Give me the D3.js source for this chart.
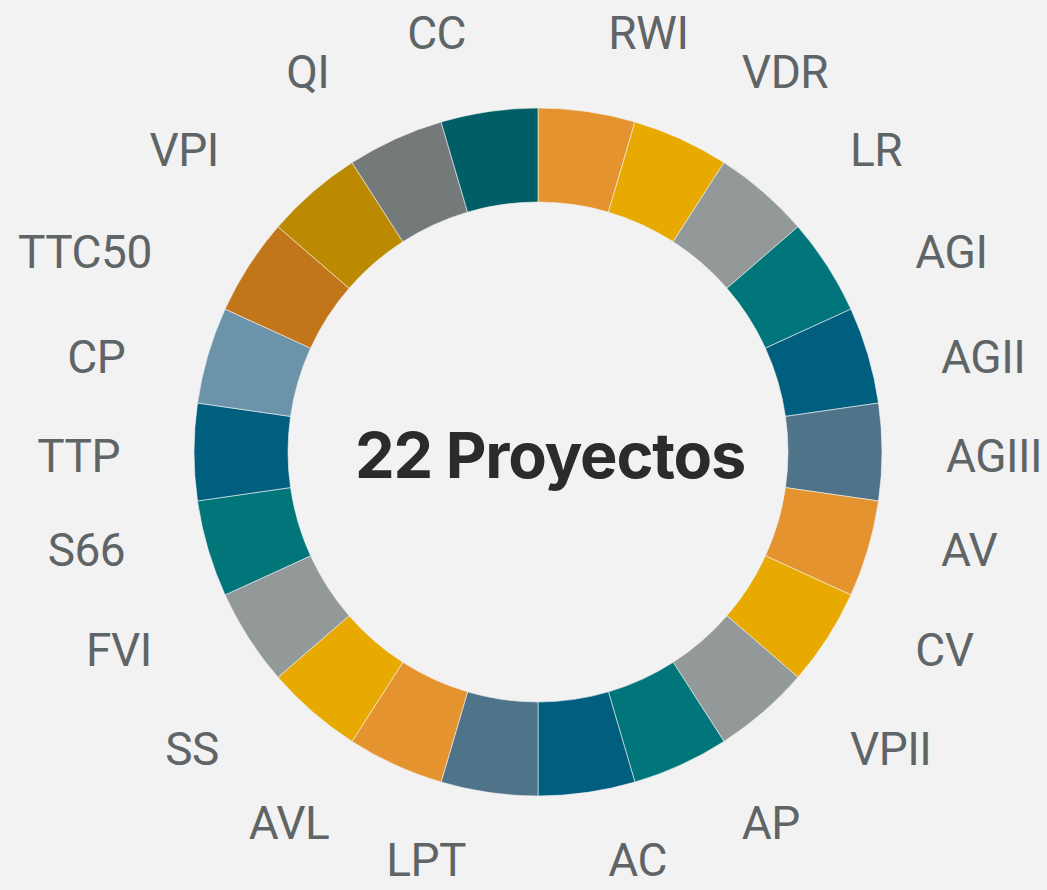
<!DOCTYPE html>
<html>
<head>
<meta charset="utf-8">
<script src="https://cdnjs.cloudflare.com/ajax/libs/d3/7.8.5/d3.min.js"></script>
<style>
  html, body { margin: 0; padding: 0; background: #f2f2f2; }
  .chart { width: 1047px; height: 890px; }
</style>
</head>
<body>
<div class="chart"></div>
<script>
// one slice per project, clockwise from 12 o'clock
const projects = ["RWI", "VDR", "LR", "AGI", "AGII", "AGIII", "AV", "CV", "VPII", "AP", "AC",
                  "LPT", "AVL", "SS", "FVI", "S66", "TTP", "CP", "TTC50", "VPI", "QI", "CC"];
const shares = [1, 1, 1, 1, 1, 1, 1, 1, 1, 1, 1, 1, 1, 1, 1, 1, 1, 1, 1, 1, 1, 1];
const sliceColors = ["#e5932f", "#e8aa00", "#939998", "#00767b", "#005f7f", "#4f7389",
                     "#e5932f", "#e8aa00", "#939998", "#00767b", "#005f7f", "#4f7389",
                     "#e5932f", "#e8aa00", "#939998", "#00767b", "#005f7f", "#6b94ab",
                     "#c2761a", "#bc8a00", "#737a79", "#005f66"];
const centerLabel = "22 Proyectos";

const width = 1047, height = 890;
const cx = 538, cy = 452;
const outerR = 344, innerR = 250;
const labelSize = 46, capH = 33;

const svg = d3.select(".chart").append("svg")
    .attr("width", width).attr("height", height);

const g = svg.append("g")
    .attr("transform", "translate(" + cx + "," + cy + ")");

const data = projects.map((name, i) => ({name: name, value: shares[i], color: sliceColors[i]}));

const pie = d3.pie().sort(null).value(d => d.value);
const arc = d3.arc().innerRadius(innerR).outerRadius(outerR);

const arcs = pie(data);

g.selectAll(".slice")
    .data(arcs)
    .enter().append("path")
    .attr("class", "slice")
    .attr("d", arc)
    .attr("fill", d => d.data.color)
    .attr("stroke", "#f2f2f2")
    .attr("stroke-width", 0.6);

// label anchor point: slice mid angle, nudged toward the sides, a bit further out on the diagonals
function labelPos(d) {
    const mid = (d.startAngle + d.endAngle) / 2;
    const a = mid + (6 * Math.PI / 180) * Math.sin(2 * mid);
    const r = 418 + 20 * Math.pow(Math.sin(2 * mid), 2);
    const rx = a < Math.PI ? r - 10 : r;
    const c = Math.cos(a);
    return [rx * Math.sin(a), -r * c + 3 - 9 * Math.abs(c), a];
}

g.selectAll(".label")
    .data(arcs)
    .enter().append("text")
    .attr("class", "label")
    .attr("x", d => labelPos(d)[0])
    .attr("y", d => labelPos(d)[1] + capH / 2)
    .attr("text-anchor", d => labelPos(d)[2] < Math.PI ? "start" : "end")
    .attr("font-family", "Roboto, 'Liberation Sans', sans-serif")
    .attr("font-size", labelSize)
    .attr("letter-spacing", -0.5)
    .attr("fill", "#5f6566")
    .text(d => d.data.name);

g.append("text")
    .attr("x", 12)
    .attr("y", 26)
    .attr("text-anchor", "middle")
    .attr("font-family", "Inter, Roboto, sans-serif")
    .attr("font-weight", 700)
    .attr("font-size", 63)
    .attr("letter-spacing", -1.2)
    .attr("fill", "#2a2c2c")
    .text(centerLabel);
</script>
</body>
</html>
